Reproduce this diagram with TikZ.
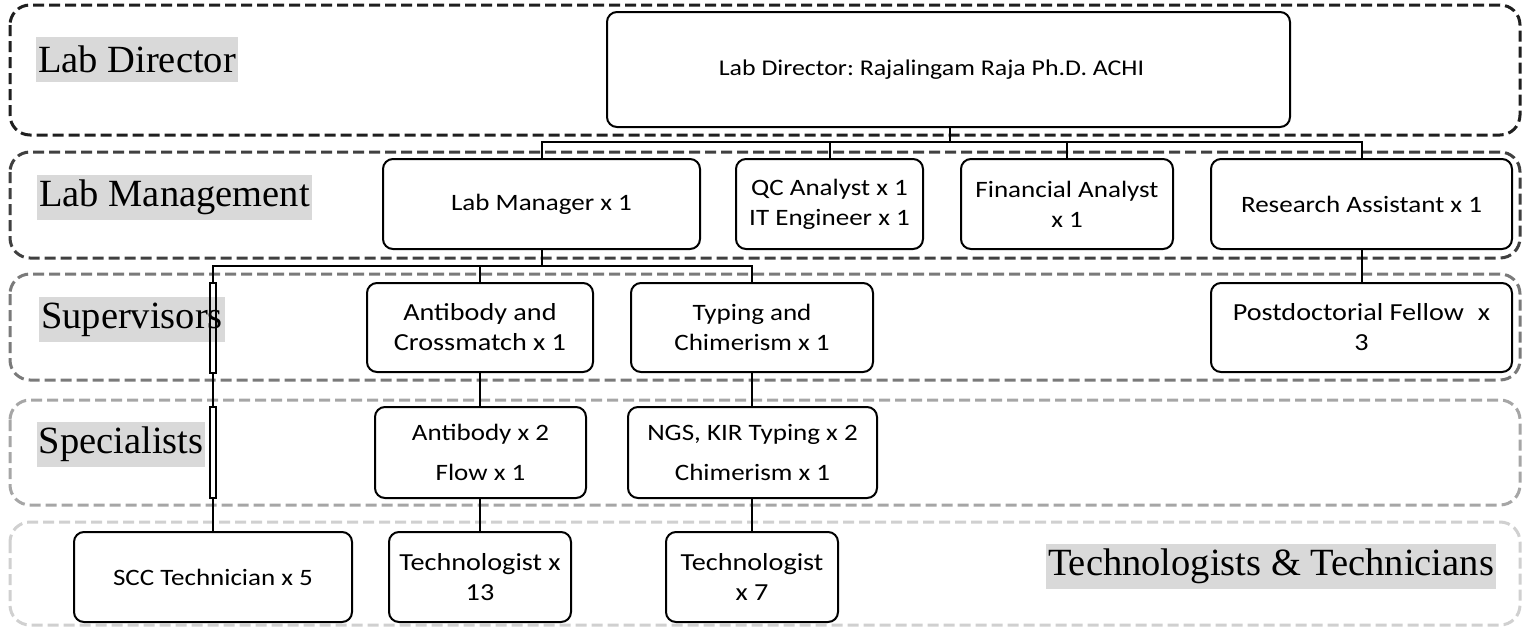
\documentclass[tikz,border=0pt]{standalone}
\usepackage{fontspec}
\newfontfamily\boxfont[FakeStretch=1.15]{Carlito}
\newfontfamily\lblfont{Liberation Serif}
\definecolor{bandA}{HTML}{1F1F1F}
\definecolor{bandB}{HTML}{404040}
\definecolor{bandC}{HTML}{7A7A7A}
\definecolor{bandD}{HTML}{A6A6A6}
\definecolor{bandE}{HTML}{D0D0D0}
\definecolor{lblbg}{HTML}{D9D9D9}
\begin{document}
\frenchspacing
\begin{tikzpicture}[x=1pt,y=-1pt,
  band/.style={rounded corners=20pt, dash pattern=on 11pt off 5pt, line width=3pt},
  box/.style={draw, fill=white, rounded corners=10pt, line width=2pt, align=center,
    inner sep=0pt, font=\boxfont\fontsize{23.5}{30}\selectfont},
  bigtxt/.style={font=\boxfont\fontsize{24.5}{30}\selectfont},
  lbl/.style={fill=lblbg, inner xsep=2pt, inner ysep=0pt, minimum height=45pt,
    font=\lblfont\fontsize{38.5}{44}\selectfont},
  conn/.style={line width=2pt},
  dbl/.style={fill=white, line width=1.5pt, inner sep=0pt, minimum width=6pt},
  dblline/.style={draw, line width=1.5pt, inner sep=0pt, minimum width=6pt}]
\useasboundingbox (0,0) rectangle (1526,629);
% bands
\draw[band, bandA] (10,5) rectangle (1520,135);
\draw[band, bandB] (10,152) rectangle (1520,258);
\draw[band, bandC] (10,274) rectangle (1520,380);
\draw[band, bandD] (10,400) rectangle (1520,505);
\draw[band, bandE] (10,522) rectangle (1520,625);
% boxes
\node[box, font=\boxfont\fontsize{22.5}{30}\selectfont, minimum width=683pt, minimum height=115pt] (dir) at (948.5,69.5) {Lab Director: Rajalingam Raja Ph.D. ACHI\hspace*{34pt}};
\node[box, minimum width=317pt, minimum height=90pt] (mgr) at (541.5,204) {Lab Manager x 1};
\node[box, minimum width=187pt, minimum height=90pt] (qc) at (829.5,204) {QC Analyst x 1\\IT Engineer x 1};
\node[box, minimum width=212pt, minimum height=90pt] (fin) at (1067,204) {Financial Analyst\\x 1};
\node[box, minimum width=301pt, minimum height=90pt] (ra) at (1361.5,204) {Research Assistant x 1};
\node[box, bigtxt, minimum width=226pt, minimum height=89pt] (abx) at (480,327.5) {Antibody and\\Crossmatch x 1};
\node[box, minimum width=242pt, minimum height=89pt] (typ) at (752,327.5) {Typing and\\Chimerism x 1};
\node[box, bigtxt, minimum width=301pt, minimum height=89pt] (pdf) at (1361.5,327.5) {Postdoctorial Fellow\hspace{14pt}x\\3};
\node[box, minimum width=211pt, minimum height=91pt] (ab2) at (480.5,452.5) {Antibody x 2\\[10pt]Flow x 1};
\node[box, minimum width=249pt, minimum height=91pt] (ngs) at (752.5,452.5) {NGS, KIR Typing x 2\\[10pt]Chimerism x 1};
\node[box, minimum width=278pt, minimum height=90pt] (scc) at (213,577) {SCC Technician x 5};
\node[box, bigtxt, minimum width=182pt, minimum height=90pt] (t13) at (480,577) {Technologist x\\13};
\node[box, bigtxt, minimum width=172pt, minimum height=90pt] (t7) at (752,577) {Technologist\\x 7};
% junctions
\coordinate (j1) at (950,142);
\coordinate (j2) at (541.5,266);
% connectors
\draw[conn] (dir.south -| j1) -- (j1);
\draw[conn] (mgr.north) -- (mgr.north |- j1) -- (ra.north |- j1) -- (ra.north);
\draw[conn] (qc.north) -- (qc.north |- j1);
\draw[conn] (fin.north) -- (fin.north |- j1);
\draw[conn] (mgr.south) -- (j2);
\draw[conn] (scc.north) |- (j2) -| (typ.north);
\draw[conn] (abx.north) -- (abx.north |- j2);
\draw[conn] (ra.south) -- (pdf.north);
\draw[conn] (abx.south) -- (abx.south |- ab2.north);
\draw[conn] (ab2.south -| t13.north) -- (t13.north);
\draw[conn] (typ.south) -- (typ.south |- ngs.north);
\draw[conn] (ngs.south -| t7.north) -- (t7.north);
\node[dbl, minimum height=90pt] (s1) at (213,328) {};
\node[dbl, minimum height=91pt] (s2) at (213,452.5) {};
% labels
\node[lbl] (lDir) at (137,59.5) {Lab Director};
\node[lbl] (lMan) at (174.5,197) {Lab Management};
\node[lbl] (lSup) at (132,319.5) {Supervisors};
\node[lbl] (lSpe) at (121,444) {Specialists};
\node[lbl] (lTec) at (1271,566.5) {Technologists \& Technicians};
% outlines of the double segments over the labels
\node[dblline, minimum height=90pt] (s1o) at (s1) {};
\node[dblline, minimum height=91pt] (s2o) at (s2) {};
\end{tikzpicture}
\end{document}
